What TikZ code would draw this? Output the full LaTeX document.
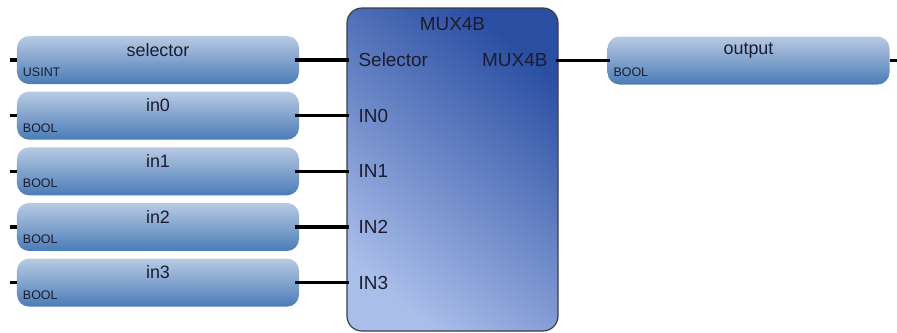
\documentclass[tikz,border=0pt]{standalone}
\usepackage{fontspec}
\setmainfont{Liberation Sans}
\usepackage{tikz}
\usetikzlibrary{positioning}

\definecolor{varTop}{HTML}{B8CAE3}
\definecolor{varBot}{HTML}{4A7CB7}
\definecolor{fbDark}{HTML}{2A4EA2}
\definecolor{fbLight}{HTML}{AABEEA}
\definecolor{fbEdge}{HTML}{3A3D4A}
\definecolor{txt}{HTML}{1C1C2E}

\begin{document}
\begin{tikzpicture}[
  x=1bp, y=-1bp,
  node distance=7.25bp,
  var/.style={rounded corners=12bp, top color=varTop, bottom color=varBot,
              minimum width=282bp, minimum height=48bp, inner sep=0pt},
  vname/.style={font=\fontsize{18}{20}\selectfont, text=txt, inner sep=0pt},
  vtype/.style={font=\fontsize{12.5}{14}\selectfont, text=txt, anchor=west, inner sep=1bp},
  fblock/.style={draw=fbEdge, line width=1.2bp, rounded corners=15bp,
                 top color=fbDark, bottom color=fbLight, shading angle=-40,
                 minimum width=211bp, minimum height=323bp},
  pin/.style={font=\fontsize{19}{21}\selectfont, text=txt, inner sep=0pt},
  wire/.style={line width=3.5bp, black},
  stub/.style={line width=3.5bp, black},
]
\useasboundingbox (0,0) rectangle (897,332);

\node[var] (selector) at (158,60) {};
\node[var, below=of selector] (in0) {};
\node[var, below=of in0] (in1) {};
\node[var, below=of in1] (in2) {};
\node[var, below=of in2] (in3) {};
\node[fblock] (mux) at (452.5,169.5) {};
\node[var] (output) at (748.5,60.5) {};

\node[vname] (selector-name) at ([yshift=-14bp]selector.north) {selector};
\node[vname] (in0-name) at ([yshift=-14bp]in0.north) {in0};
\node[vname] (in1-name) at ([yshift=-14bp]in1.north) {in1};
\node[vname] (in2-name) at ([yshift=-14bp]in2.north) {in2};
\node[vname] (in3-name) at ([yshift=-14bp]in3.north) {in3};
\node[vname] (output-name) at ([yshift=-14bp]output.north) {output};

\node[vtype] (selector-type) at ([xshift=5bp,yshift=12bp]selector.south west) {USINT};
\node[vtype] (in0-type) at ([xshift=5bp,yshift=12bp]in0.south west) {BOOL};
\node[vtype] (in1-type) at ([xshift=5bp,yshift=12bp]in1.south west) {BOOL};
\node[vtype] (in2-type) at ([xshift=5bp,yshift=12bp]in2.south west) {BOOL};
\node[vtype] (in3-type) at ([xshift=5bp,yshift=12bp]in3.south west) {BOOL};
\node[vtype] (output-type) at ([xshift=5bp,yshift=12bp]output.south west) {BOOL};

\node[pin] (mux-title) at ([yshift=-17bp]mux.north) {MUX4B};
\node[pin, anchor=west, xshift=12bp] (pSel) at (mux.west |- selector) {Selector};
\node[pin, anchor=west, xshift=12bp] (pIn0) at (mux.west |- in0) {IN0};
\node[pin, anchor=west, xshift=12bp] (pIn1) at (mux.west |- in1) {IN1};
\node[pin, anchor=west, xshift=12bp] (pIn2) at (mux.west |- in2) {IN2};
\node[pin, anchor=west, xshift=12bp] (pIn3) at (mux.west |- in3) {IN3};
\node[pin, anchor=east, xshift=-11bp] (pOut) at (mux.east |- output.west) {MUX4B};

\draw[stub] (selector.west) -- ++(-7,0);
\draw[stub] (in0.west) -- ++(-7,0);
\draw[stub] (in1.west) -- ++(-7,0);
\draw[stub] (in2.west) -- ++(-7,0);
\draw[stub] (in3.west) -- ++(-7,0);
\draw[stub] (output.east) -- ++(7,0);

\draw[wire] ([xshift=-4bp]selector.east) -- ([xshift=3bp]mux.west |- selector.east);
\draw[wire] ([xshift=-4bp]in0.east) -- ([xshift=3bp]mux.west |- in0.east);
\draw[wire] ([xshift=-4bp]in1.east) -- ([xshift=3bp]mux.west |- in1.east);
\draw[wire] ([xshift=-4bp]in2.east) -- ([xshift=3bp]mux.west |- in2.east);
\draw[wire] ([xshift=-4bp]in3.east) -- ([xshift=3bp]mux.west |- in3.east);
\draw[wire] ([xshift=-3bp]mux.east |- output.west) -- ([xshift=3bp]output.west);
\end{tikzpicture}
\end{document}
